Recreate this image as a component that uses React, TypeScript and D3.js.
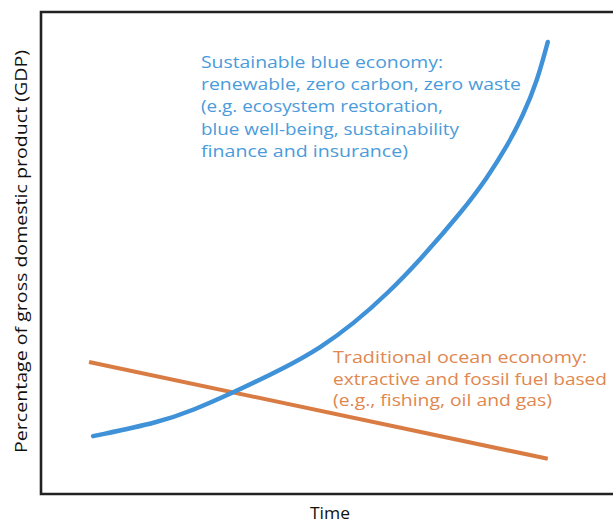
import React from "react";
import * as d3 from "d3";

// Data in arbitrary units: time 0–100, share of GDP 0–100
const blueTime = [9.1, 20.8, 26.6, 33.0, 43.0, 48.8, 54.6, 60.5, 66.3, 73.8, 78.0, 81.5, 84.3, 86.7, 88.6];
const blueShare = [12.0, 14.9, 17.4, 20.7, 26.4, 30.3, 35.3, 41.5, 48.6, 58.9, 65.6, 72.2, 78.6, 85.5, 93.8];
const orangeTime = [8.4, 88.6];
const orangeShare = [27.4, 7.3];

const blueLabel = [
  "Sustainable blue economy:",
  "renewable, zero carbon, zero waste",
  "(e.g. ecosystem restoration,",
  "blue well-being, sustainability",
  "finance and insurance)",
];
const blueLabelWidths = [242, 320, 242, 258, 207];
const orangeLabel = [
  "Traditional ocean economy:",
  "extractive and fossil fuel based",
  "(e.g., fishing, oil and gas)",
];
const orangeLabelWidths = [254, 274, 219];
const xTitle = "Time";
const yTitle = "Percentage of gross domestic product (GDP)";

const W = 613;
const H = 523;
const left = 41;
const top = 12;
const right = 613;
const bottom = 494;
const FONT = "'Open Sans', 'Noto Sans', sans-serif";

export default function App() {
  const x = d3.scaleLinear().domain([0, 100]).range([left, right]);
  const y = d3.scaleLinear().domain([0, 100]).range([bottom, top]);

  const bluePts: [number, number][] = blueTime.map((t, i) => [t, blueShare[i]]);
  const orangePts: [number, number][] = orangeTime.map((t, i) => [t, orangeShare[i]]);

  const line = d3
    .line<[number, number]>()
    .x((d) => x(d[0]))
    .y((d) => y(d[1]))
    .curve(d3.curveBasis);

  const straight = d3
    .line<[number, number]>()
    .x((d) => x(d[0]))
    .y((d) => y(d[1]));

  return (
    <div style={{ position: "absolute", left: 0, top: 0 }}>
      <svg width={W} height={H} style={{ display: "block" }}>
        <rect x={0} y={0} width={W} height={H} fill="#ffffff" />
        <path
          d={`M${right + 10},${top} H${left} V${bottom} H${right + 10}`}
          fill="none"
          stroke="#222222"
          strokeWidth={2.6}
        />
        <path d={straight(orangePts) || ""} fill="none" stroke="#d97c44" strokeWidth={4} strokeLinecap="butt" />
        <path d={line(bluePts) || ""} fill="none" stroke="#3f91d8" strokeWidth={4.4} strokeLinecap="round" />
        {blueLabel.map((s, i) => (
          <text
            key={"b" + i}
            x={201}
            y={68 + i * 22.2}
            fill="#4a9bdb"
            fontFamily={FONT}
            fontSize={17}
            textLength={blueLabelWidths[i]}
            lengthAdjust="spacingAndGlyphs"
          >
            {s}
          </text>
        ))}
        {orangeLabel.map((s, i) => (
          <text
            key={"o" + i}
            x={333}
            y={363 + i * 21.5}
            fill="#e0874f"
            fontFamily={FONT}
            fontSize={17}
            textLength={orangeLabelWidths[i]}
            lengthAdjust="spacingAndGlyphs"
          >
            {s}
          </text>
        ))}
        <text
          x={330}
          y={519}
          textAnchor="middle"
          fill="#111"
          fontFamily={FONT}
          fontSize={16}
          textLength={40}
          lengthAdjust="spacingAndGlyphs"
        >
          {xTitle}
        </text>
        <text
          transform={`translate(27,251.5) rotate(-90)`}
          textAnchor="middle"
          fill="#111"
          fontFamily={FONT}
          fontSize={17}
          textLength={403}
          lengthAdjust="spacingAndGlyphs"
        >
          {yTitle}
        </text>
      </svg>
    </div>
  );
}
